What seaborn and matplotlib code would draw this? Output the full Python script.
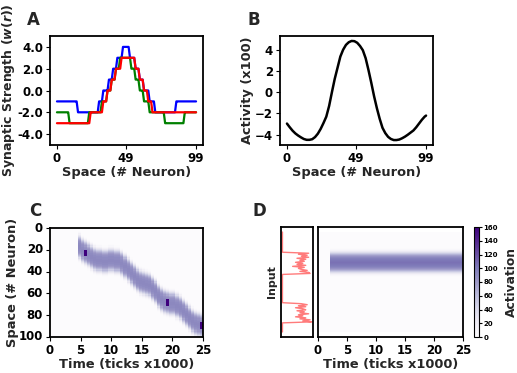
import numpy as np
import pandas as pd
import seaborn as sns
import matplotlib.pyplot as plt

# Panel A: synaptic strength profiles, run-length coded (level, number of neurons)
blue_levels = [-1, -2, -1, 0, 1, 2, 3, 4, 3, 2, 1, 0, -1, -2, -1]
blue_runs = [15, 15, 3, 4, 3, 3, 4, 5, 4, 3, 3, 4, 4, 15, 15]
green_levels = [-2, -3, -2, -1, 0, 1, 2, 3, 2, 1, 0, -1, -2, -3, -2]
green_runs = [9, 14, 9, 4, 3, 3, 3, 8, 3, 3, 3, 4, 11, 14, 9]
red_levels = [-3, -2, -1, 0, 1, 2, 3, 2, 1, 0, -1, -2]
red_runs = [24, 9, 3, 3, 3, 4, 10, 3, 3, 3, 3, 32]

# Panel B: activity profile (x100)
b_space = [0, 2, 4, 6, 8, 10, 12, 14, 16, 18, 20, 22, 24, 26, 28, 30, 32, 34,
           36, 38, 40, 42, 44, 46, 48, 50, 52, 54, 56, 58, 60, 62, 64, 66, 68,
           70, 72, 74, 76, 78, 80, 82, 84, 86, 88, 90, 92, 94, 96, 98, 99]
b_activity = [-2.95, -3.3, -3.62, -3.88, -4.08, -4.25, -4.4, -4.48, -4.48,
              -4.42, -4.22, -3.9, -3.45, -2.9, -2.3, -1.3, 0.0, 1.25, 2.3,
              3.35, 4.0, 4.45, 4.7, 4.82, 4.8, 4.65, 4.35, 3.95, 3.2, 2.1, 0.9,
              -0.37, -1.5, -2.5, -3.35, -3.85, -4.2, -4.4, -4.5, -4.5, -4.45,
              -4.33, -4.18, -4.0, -3.8, -3.6, -3.3, -2.95, -2.6, -2.3, -2.2]

# Panel C: bump centre (neuron) for each 500-tick column, None = no bump
c_centres = [None, None, None, None, None, None, None, None, None,
             17, 20, 22, 24, 26, 28, 29, 29, 30, 30, 29, 29, 30, 30, 32, 35,
             38, 41, 44, 47, 49, 50, 51, 52, 55, 58, 62, 65, 67, 68, 69, 69,
             71, 73, 76, 79, 82, 85, 87, 88, 89]
c_profile = [92, 92, 91, 90, 88, 85, 80, 72, 62, 50, 37, 25, 14, 6, 2]
c_spike_cols = [11, 38, 49]
c_spike_rows = [(20, 26), (65, 72), (86, 93)]

# Panel D: stationary bump and the input it receives
d_centre = 30
d_start_col = 4
d_profile = [105, 104, 103, 101, 98, 93, 86, 77, 65, 51, 37, 24, 13, 6, 2]
input_bump1 = [0.9, 0.55, 0.85, 0.65, 0.9, 0.5, 0.8, 0.6, 0.75, 0.45, 0.7,
               0.5, 0.8, 0.35, 0.75, 0.55, 0.65, 0.85, 0.6, 0.9, 0.95]
input_bump2 = [0.65, 0.85, 0.55, 0.8, 0.45, 0.7, 0.8, 0.5, 0.75, 0.6, 0.9,
               0.55, 0.7, 0.45, 0.8, 0.6, 0.95, 0.7, 1.0]
input_values = [0.0] * 21 + input_bump1 + [0.0] * 29 + input_bump2 + [0.0] * 10

time_ticks = [0, 5, 10, 15, 20, 25]
space_ticks = [0, 20, 40, 60, 80, 100]

sns.set_style('white')
plt.rcParams['font.family'] = ['DejaVu Sans']
plt.rcParams['font.weight'] = 'bold'
plt.rcParams['axes.labelweight'] = 'bold'
plt.rcParams['axes.linewidth'] = 1.3
plt.rcParams['axes.edgecolor'] = 'black'
plt.rcParams['xtick.bottom'] = True
plt.rcParams['ytick.left'] = True
plt.rcParams['xtick.color'] = 'black'
plt.rcParams['ytick.color'] = 'black'
plt.rcParams['xtick.major.size'] = 3
plt.rcParams['ytick.major.size'] = 3

fig = plt.figure(figsize=(5.17, 3.73), dpi=100)
W, H = 517, 373


def box(left, top, right, bottom):
    return [left / W, 1 - bottom / H, (right - left) / W, (bottom - top) / H]


tick_fs = 8.5
label_fs = 9.4

# ---- A ----
axA = fig.add_axes(box(50, 36, 203, 145))
space = np.arange(100)
profiles = pd.DataFrame({
    'space': space,
    'blue': np.repeat(blue_levels, blue_runs),
    'green': np.repeat(green_levels, green_runs),
    'red': np.repeat(red_levels, red_runs),
})
for col in ['blue', 'green', 'red']:
    sns.lineplot(data=profiles, x='space', y=col, color=col, lw=1.6, ax=axA)
axA.set_ylim(-5, 5)
axA.set_xticks([0, 49, 99])
axA.set_yticks([-4, -2, 0, 2, 4])
axA.set_yticklabels(['%.1f' % v for v in [-4, -2, 0, 2, 4]])
axA.set_xlabel('Space (# Neuron)', fontsize=label_fs, labelpad=1)
axA.set_ylabel(r'Synaptic Strength ($w(r)$)', fontsize=9.0, labelpad=0)
axA.tick_params(labelsize=tick_fs, pad=2)

# ---- B ----
axB = fig.add_axes(box(280, 36, 433, 145))
sns.lineplot(x=b_space, y=b_activity, color='black', lw=1.8, ax=axB)
axB.set_xticks([0, 49, 99])
axB.set_yticks([-4, -2, 0, 2, 4])
axB.set_xlabel('Space (# Neuron)', fontsize=label_fs, labelpad=1)
axB.set_ylabel('Activity (x100)', fontsize=label_fs, labelpad=0.5)
axB.tick_params(labelsize=tick_fs, pad=2)

# ---- C ----
c_matrix = np.zeros((100, 50))
for col, centre in enumerate(c_centres):
    if centre is None:
        continue
    for d, val in enumerate(c_profile):
        for row in (centre - d, centre + d):
            if 0 <= row < 100:
                c_matrix[row, col] = val
for col, (r0, r1) in zip(c_spike_cols, c_spike_rows):
    c_matrix[r0:r1, col] = 160

axC = fig.add_axes(box(50, 228, 203, 337))
sns.heatmap(c_matrix, cmap='Purples', vmin=0, vmax=160, cbar=False, ax=axC)
axC.set_xticks([t * 2 for t in time_ticks])
axC.set_xticklabels(time_ticks, rotation=0)
axC.set_yticks(space_ticks)
axC.set_yticklabels(space_ticks, rotation=0)
axC.set_xlabel('Time (ticks x1000)', fontsize=label_fs, labelpad=1)
axC.set_ylabel('Space (# Neuron)', fontsize=label_fs, labelpad=0)
axC.tick_params(labelsize=tick_fs, pad=2)

# ---- D ----
d_matrix = np.zeros((100, 50))
for d, val in enumerate(d_profile):
    for row in (d_centre - d, d_centre + d):
        d_matrix[row, d_start_col:] = val

axIn = fig.add_axes(box(281, 227, 313, 337))
axIn.plot(input_values, space + 0.5, color='#ff7b7b', lw=1.0)
axIn.set_ylim(104.5, -4.5)
axIn.set_xticks([])
axIn.set_yticks([])
axIn.set_ylabel('Input', fontsize=8, labelpad=3)

axD = fig.add_axes(box(318, 227, 463, 337))
cax = fig.add_axes(box(474, 227, 479, 337))
sns.heatmap(d_matrix, cmap='Purples', vmin=0, vmax=160, ax=axD, cbar_ax=cax)
axD.set_ylim(104.5, -4.5)
axD.set_xticks([t * 2 for t in time_ticks])
axD.set_xticklabels(time_ticks, rotation=0)
axD.set_yticks([])
axD.set_xlabel('Time (ticks x1000)', fontsize=label_fs, labelpad=1)
axD.tick_params(labelsize=tick_fs, pad=2)

cbar = axD.collections[0].colorbar
cbar.set_ticks(range(0, 161, 20))
cbar.outline.set_linewidth(0.8)
cbar.outline.set_edgecolor('black')
cax.tick_params(labelsize=5, length=2, pad=1)
cbar.set_label('Activation', fontsize=8.8, labelpad=5)

for ax in [axA, axB, axC, axIn, axD]:
    for sp in ax.spines.values():
        sp.set_visible(True)
        sp.set_color('black')
        sp.set_linewidth(1.3)

for letter, x, y in [('A', 33, 20), ('B', 254, 20), ('C', 35, 211), ('D', 259, 211)]:
    fig.text(x / W, 1 - y / H, letter, fontsize=12, fontweight='bold',
             ha='center', va='center')

fig.savefig('out.png', dpi=100)
